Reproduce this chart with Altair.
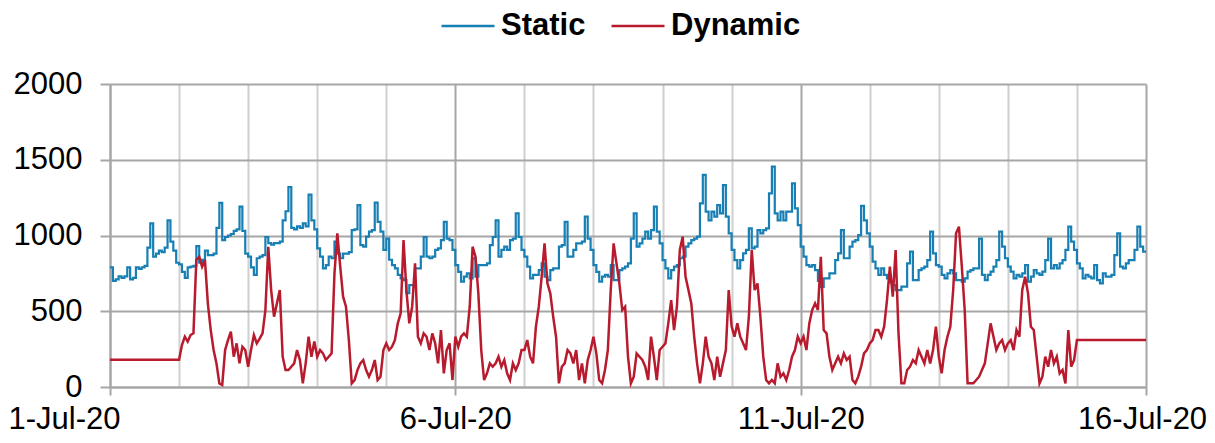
import altair as alt
import pandas as pd

# Hourly values, 1-Jul-20 00:00 .. 16-Jul-20 00:00 (one row per day)
STATIC = [
    790, 700, 710, 730, 720, 730, 790, 710, 720, 790, 780, 790, 800, 920, 1080, 860, 880, 900, 890, 920, 1100, 960, 900, 820,
    810, 760, 720, 790, 795, 800, 930, 820, 840, 900, 870, 870, 880, 1050, 1215, 970, 990, 1000, 1010, 1030, 1040, 1190, 1030, 880,
    860, 790, 740, 850, 860, 870, 990, 950, 940, 950, 950, 960, 1100, 1160, 1320, 1050, 1040, 1060, 1050, 1080, 1060, 1270, 1100, 1040,
    915, 860, 783, 805, 860, 850, 960, 880, 850, 880, 880, 890, 1036, 1040, 1200, 937, 926, 992, 1025, 1036, 1217, 1090, 1025, 905,
    980, 840, 805, 783, 740, 717, 705, 620, 673, 673, 783, 783, 860, 990, 860, 850, 860, 905, 915, 970, 1090, 980, 970, 905,
    805, 760, 695, 728, 750, 717, 850, 728, 805, 805, 805, 816, 937, 990, 1100, 860, 905, 926, 905, 970, 980, 1146, 990, 905,
    860, 794, 717, 740, 740, 772, 816, 728, 706, 772, 783, 783, 926, 937, 1090, 860, 860, 905, 948, 948, 960, 1124, 980, 905,
    805, 760, 695, 728, 740, 728, 805, 706, 706, 772, 783, 794, 816, 980, 1146, 926, 948, 980, 1025, 980, 1036, 1190, 1025, 948,
    838, 783, 717, 772, 794, 805, 850, 860, 926, 948, 970, 980, 992, 1212, 1400, 1157, 1100, 1157, 1124, 1200, 1146, 1333, 1124, 1014,
    905, 838, 783, 838, 882, 905, 1047, 915, 926, 1036, 1014, 1036, 1047, 1278, 1454, 1146, 1100, 1157, 1100, 1157, 1157, 1344, 1179, 1069,
    926, 860, 805, 794, 805, 772, 700, 660, 717, 717, 750, 750, 838, 882, 1036, 850, 850, 926, 960, 970, 1003, 1195, 1100, 1014,
    926, 827, 783, 740, 783, 740, 717, 690, 673, 640, 640, 662, 662, 816, 893, 706, 706, 772, 783, 794, 838, 1025, 882, 805,
    794, 740, 717, 750, 772, 750, 706, 706, 695, 717, 761, 772, 783, 783, 980, 740, 706, 740, 761, 794, 838, 1025, 926, 850,
    794, 761, 717, 740, 728, 750, 805, 695, 728, 772, 750, 740, 761, 838, 980, 783, 805, 783, 816, 838, 905, 1058, 960, 905,
    816, 783, 717, 740, 728, 717, 805, 706, 684, 750, 728, 728, 740, 871, 1014, 794, 783, 816, 838, 838, 905, 1058, 926, 893,
    893,
]

DYNAMIC = [
    180, 180, 180, 180, 180, 180, 180, 180, 180, 180, 180, 180, 180, 180, 180, 180, 180, 180, 180, 180, 180, 180, 180, 180,
    180, 277, 332, 300, 343, 354, 838, 860, 794, 838, 552, 376, 244, 156, 24, 13, 244, 310, 365, 200, 288, 156, 266, 244,
    134, 244, 343, 288, 320, 354, 508, 926, 640, 464, 552, 640, 200, 112, 112, 134, 156, 244, 178, 24, 156, 332, 200, 300,
    200, 244, 222, 178, 200, 222, 750, 1014, 794, 596, 530, 310, 24, 46, 112, 156, 178, 112, 68, 112, 178, 46, 68, 244,
    288, 244, 266, 310, 420, 486, 970, 640, 420, 530, 816, 332, 288, 354, 332, 244, 354, 288, 156, 376, 90, 244, 288, 46,
    332, 266, 332, 354, 332, 530, 926, 860, 618, 244, 46, 90, 156, 134, 156, 200, 134, 178, 90, 46, 156, 112, 156, 244,
    244, 310, 200, 156, 398, 530, 728, 948, 684, 618, 464, 332, 24, 134, 156, 244, 222, 156, 244, 46, 156, 24, 178, 244,
    332, 222, 46, 24, 112, 244, 640, 948, 816, 684, 508, 530, 200, 24, 68, 222, 200, 178, 134, 46, 332, 200, 46, 244,
    266, 288, 420, 574, 376, 530, 904, 992, 728, 640, 552, 332, 156, 24, 156, 332, 200, 156, 46, 200, 68, 156, 244, 640,
    400, 332, 420, 332, 288, 244, 464, 904, 640, 684, 464, 200, 46, 24, 46, 24, 156, 68, 90, 46, 112, 200, 244, 332,
    288, 332, 244, 420, 508, 552, 508, 860, 376, 354, 200, 112, 156, 200, 156, 222, 178, 200, 46, 24, 68, 134, 222, 244,
    288, 310, 376, 376, 332, 398, 574, 794, 596, 904, 354, 24, 24, 112, 134, 178, 156, 244, 200, 156, 244, 156, 244, 398,
    200, 90, 244, 332, 398, 640, 1014, 1058, 794, 508, 24, 24, 24, 46, 68, 112, 156, 288, 420, 332, 244, 288, 310, 244,
    288, 310, 244, 376, 332, 640, 728, 618, 398, 376, 200, 24, 68, 200, 134, 244, 156, 200, 90, 112, 24, 376, 134, 178,
    310, 310, 310, 310, 310, 310, 310, 310, 310, 310, 310, 310, 310, 310, 310, 310, 310, 310, 310, 310, 310, 310, 310, 310,
    310,
]

SERIES = ["Static", "Dynamic"]
COLORS = ["#177fb3", "#b71b2d"]
LABEL_DAYS = [0, 5, 10, 15]
DAY_LABELS = ["1-Jul-20", "6-Jul-20", "11-Jul-20", "16-Jul-20"]
Y_TICKS = [0, 500, 1000, 1500, 2000]

FONT = "Liberation Sans"

df_static = pd.DataFrame({"day": [i / 24 for i in range(len(STATIC))],
                          "value": STATIC, "series": "Static"})
df_dynamic = pd.DataFrame({"day": [i / 24 for i in range(len(DYNAMIC))],
                           "value": DYNAMIC, "series": "Dynamic"})

label_expr = "''"
for d, lab in reversed(list(zip(LABEL_DAYS, DAY_LABELS))):
    label_expr = f"datum.value === {d} ? '{lab}' : ({label_expr})"

major_test = "datum.value % 5 === 0"
first_day = LABEL_DAYS[0]
last_day = LABEL_DAYS[-1]

x_enc = alt.X(
    "day:Q",
    scale=alt.Scale(domain=[0, 15], nice=False, zero=False),
    axis=alt.Axis(
        title=None,
        values=list(range(16)),
        grid=True,
        gridColor={"condition": {"test": major_test, "value": "#a6a6a6"}, "value": "#d0d0d0"},
        gridWidth=2,
        domainColor="#a6a6a6",
        domainWidth=2,
        tickColor="#a6a6a6",
        tickWidth=2,
        tickSize=8,
        tickOpacity={"condition": {"test": major_test, "value": 1}, "value": 0},
        labelExpr=label_expr,
        labelAlign={"condition": {"test": f"datum.value === {first_day}", "value": "right"}, "value": "center"},
        labelOffset={"condition": [
            {"test": f"datum.value === {first_day}", "value": 10},
            {"test": f"datum.value === {last_day}", "value": -4},
        ], "value": 0},
        labelBound=False,
        labelFlush=False,
        labelOverlap=False,
        labelFont=FONT,
        labelFontSize=31,
        labelColor="#000000",
        labelPadding=9,
    ),
)

y_enc = alt.Y(
    "value:Q",
    scale=alt.Scale(domain=[0, 2000], nice=False),
    axis=alt.Axis(
        title=None,
        values=Y_TICKS,
        format="d",
        grid=True,
        gridColor="#a6a6a6",
        gridWidth=2,
        domainColor="#a6a6a6",
        domainWidth=2,
        tickColor="#a6a6a6",
        tickWidth=2,
        tickSize=10,
        labelFont=FONT,
        labelFontSize=31,
        labelColor="#000000",
        labelPadding=18,
    ),
)

color_enc = alt.Color(
    "series:N",
    scale=alt.Scale(domain=SERIES, range=COLORS),
    legend=alt.Legend(
        title=None,
        orient="none",
        legendX=330,
        legendY=-86,
        direction="horizontal",
        symbolType="stroke",
        symbolSize=2809,
        symbolStrokeWidth=2.5,
        labelFont=FONT,
        labelFontSize=31,
        labelFontWeight="bold",
        labelColor="#000000",
        labelOffset=5,
        columnPadding=20,
    ),
)

static_line = alt.Chart(df_static).mark_line(
    interpolate="step-after", strokeWidth=2.2
).encode(x=x_enc, y=y_enc, color=color_enc)

dynamic_line = alt.Chart(df_dynamic).mark_line(
    interpolate="linear", strokeWidth=2.5
).encode(x=x_enc, y=y_enc, color=color_enc)

chart = alt.layer(static_line, dynamic_line).properties(
    width=1036,
    height=303,
    autosize="none",
    padding={"left": 102, "top": 76, "right": 61, "bottom": 48},
).configure_view(stroke=None)

chart.save("out.html", embed_options={"renderer": "svg", "actions": False})
